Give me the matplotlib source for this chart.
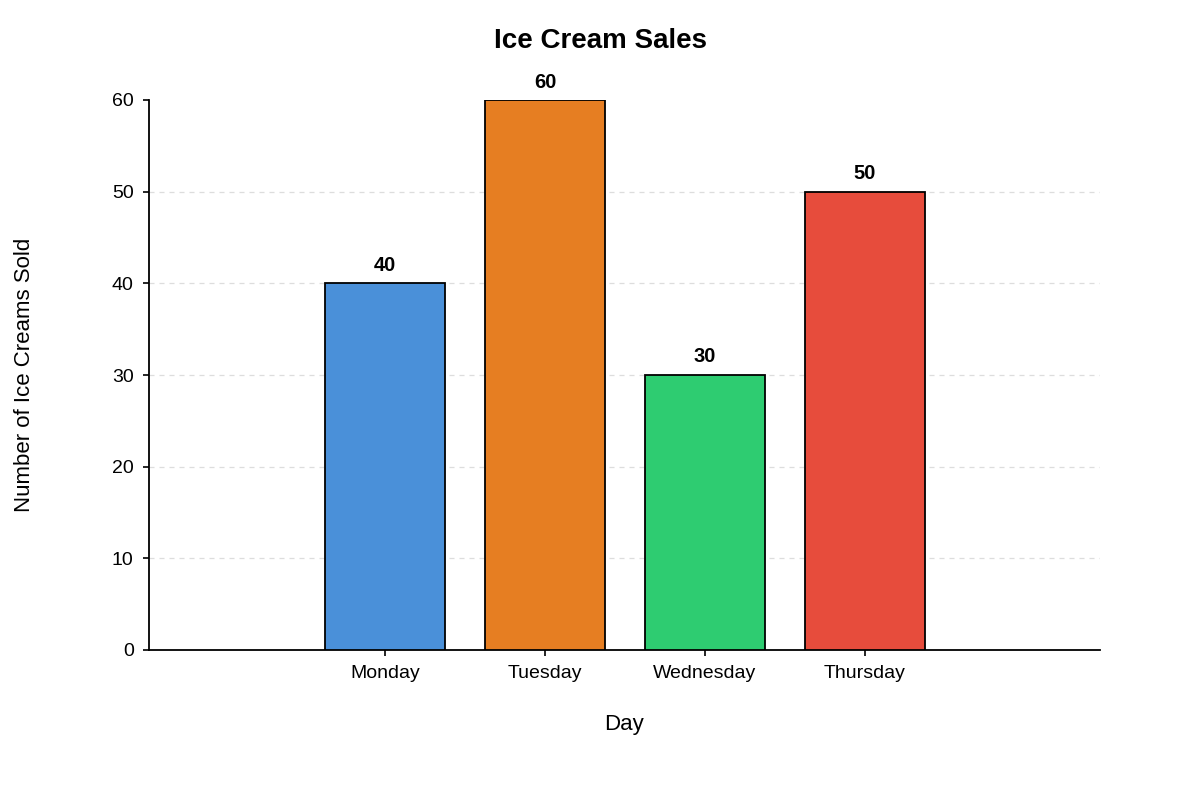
import matplotlib
matplotlib.use("Agg")
import matplotlib.pyplot as plt

days = ["Monday", "Tuesday", "Wednesday", "Thursday"]
sales = [40, 60, 30, 50]
colors = ["#4A90D9", "#E67E22", "#2ECC71", "#E74C3C"]
yticks = [0, 10, 20, 30, 40, 50, 60]

plt.rcParams['font.family'] = ['Liberation Sans', 'DejaVu Sans']

fig = plt.figure(figsize=(12, 8), dpi=100)
ax = fig.add_axes([149/1200, 150/800, (1100-149)/1200, 550/800])

x = list(range(len(days)))
bars = ax.bar(x, sales, width=0.75, color=colors, edgecolor='black', linewidth=1.3, zorder=3)

for xi, v in zip(x, sales):
    ax.annotate(str(v), (xi, v), xytext=(0, 9), textcoords='offset points',
                ha='center', va='baseline', fontsize=14.5, fontweight='bold')

ax.set_xlim(-1.475, 4.469)
ax.set_ylim(0, 60)
ax.set_xticks(x)
ax.set_xticklabels(days)
ax.set_yticks(yticks)
ax.tick_params(axis='both', labelsize=14, length=4, width=1.2, colors='black')
ax.tick_params(axis='x', pad=7)
ax.tick_params(axis='y', pad=7)

ax.yaxis.grid(True, linestyle=(0, (4, 4)), color='#dddddd', linewidth=0.9, zorder=0)
ax.set_axisbelow(True)
gls = ax.yaxis.get_gridlines()
gls[-1].set_visible(False)
gls[0].set_visible(False)

for s in ['top', 'right']:
    ax.spines[s].set_visible(False)
for s in ['left', 'bottom']:
    ax.spines[s].set_linewidth(1.3)

ax.set_xlabel("Day", fontsize=16)
ax.set_ylabel("Number of Ice Creams Sold", fontsize=16)
ax.yaxis.set_label_coords(-114/951, 0.5)
ax.xaxis.set_label_coords(0.5, -64/550)

fig.text(0.5, 1 - 41/800, "Ice Cream Sales", ha='center', va='center', fontsize=20, fontweight='bold')

fig.savefig("out.png", dpi=100)
